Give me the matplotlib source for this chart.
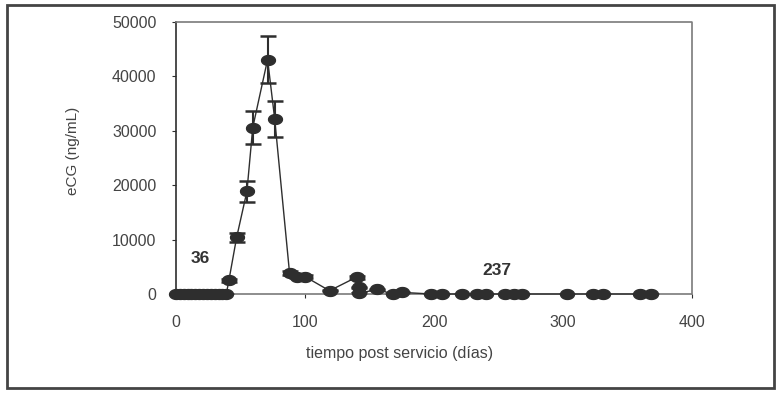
import numpy as np
import matplotlib
matplotlib.use("Agg")
import matplotlib.pyplot as plt
from matplotlib.path import Path
from matplotlib.patches import Rectangle

# eCG concentration vs days after service
days = [0, 3, 6, 9, 12, 15, 18, 21, 24, 27, 30, 33, 36, 39, 41,
        47, 55, 59.5, 71, 76.5, 88, 93.5, 100, 119, 140, 142, 142,
        155.5, 168, 175, 198, 206, 222, 233, 240, 255, 262, 268,
        303, 323, 331, 360, 368]
ecg = [0, 0, 0, 0, 0, 0, 0, 0, 0, 0, 0, 0, 0, 0, 2500,
       10400, 18900, 30600, 43100, 32200, 3900, 3200, 3200, 600, 3100, 1200, 100,
       860, 0, 300, 0, 0, 0, 0, 0, 0, 0, 0,
       0, 0, 0, 0, 0]
ecg_err = [0, 0, 0, 0, 0, 0, 0, 0, 0, 0, 0, 0, 0, 0, 300,
           900, 1900, 2950, 4400, 3300, 350, 300, 300, 100, 300, 150, 0,
           100, 0, 50, 0, 0, 0, 0, 0, 0, 0, 0,
           0, 0, 0, 0, 0]

x_ticks = [0, 100, 200, 300, 400]
y_ticks = [0, 10000, 20000, 30000, 40000, 50000]

# flattened ellipse marker, like the scanned dots
t = np.linspace(0, 2 * np.pi, 40)
ellipse = Path(np.column_stack([1.4 * np.cos(t), np.sin(t)]), closed=True)

dark = "#2e2e2e"
plt.rcParams["font.family"] = ["Liberation Sans", "DejaVu Sans"]

fig = plt.figure(figsize=(7.76, 3.95), dpi=100)
ax = fig.add_axes([176 / 776, 1 - 294 / 395, 516 / 776, 272 / 395])

ax.errorbar(days, ecg, yerr=ecg_err, fmt="none", ecolor=dark, elinewidth=1.5,
            capsize=6, capthick=1.8, zorder=2)
ax.plot(days, ecg, color=dark, linewidth=1, marker=ellipse, markersize=10,
        markerfacecolor=dark, markeredgecolor=dark, zorder=3, clip_on=False)

ax.text(18.5, 6500, "36", fontsize=12.5, fontweight="bold", color="#333333",
        ha="center", va="center")
ax.text(249, 4400, "237", fontsize=12.5, fontweight="bold", color="#333333",
        ha="center", va="center")

ax.set_xlim(0, 400)
ax.set_ylim(0, 50000)
ax.set_xticks(x_ticks)
ax.set_yticks(y_ticks)
ax.tick_params(axis="y", direction="out", length=3, pad=11, labelsize=11.5,
               labelcolor="#444444", color=dark)
ax.tick_params(axis="x", direction="out", length=3, pad=12, labelsize=11.5,
               labelcolor="#444444", color=dark)

for side in ["top", "right", "bottom"]:
    ax.spines[side].set_color("#7a7a7a")
    ax.spines[side].set_linestyle((0, (1, 1)))
    ax.spines[side].set_linewidth(1.2)
ax.spines["left"].set_color(dark)
ax.spines["left"].set_linewidth(1.2)

ax.set_xlabel("tiempo post servicio (días)", fontsize=11.5, color="#444444")
ax.xaxis.set_label_coords(0.434, -0.217)
ax.xaxis.label.set_va("center")
ax.set_ylabel("eCG (ng/mL)", fontsize=11, color="#444444")
ax.yaxis.set_label_coords(-0.2, 0.526)
ax.yaxis.label.set_va("center")

# outer chart frame
fig.patches.append(Rectangle((7 / 776, 7 / 395), 1 - 9 / 776, 1 - 12 / 395,
                             transform=fig.transFigure, fill=False,
                             edgecolor="#444444", linewidth=2))

fig.savefig("out.png", dpi=100)
